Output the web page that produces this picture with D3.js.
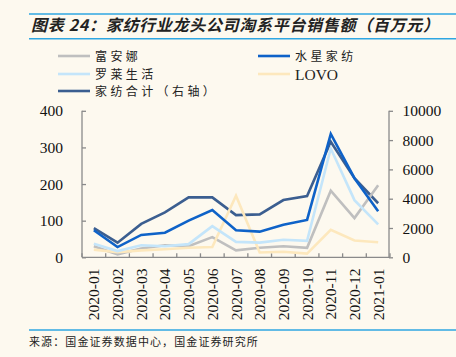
<!DOCTYPE html>
<html><head><meta charset="utf-8">
<script src="https://cdn.jsdelivr.net/npm/d3@7"></script>
<style>
html,body{margin:0;padding:0;background:#fdf9ef;}
svg{display:block;}
</style></head>
<body>
<script>
const categories = ["2020-01","2020-02","2020-03","2020-04","2020-05","2020-06","2020-07","2020-08","2020-09","2020-10","2020-11","2020-12","2021-01"];
const fuanna = [30, 8, 24, 33, 30, 55, 19, 26, 30, 26, 182, 107, 197];
const shuixing = [74, 28, 61, 67, 100, 129, 74, 70, 89, 102, 337, 216, 126];
const luolai = [37, 17, 33, 30, 36, 85, 42, 40, 48, 45, 297, 156, 90];
const lovo = [21, 14, 19, 22, 26, 28, 168, 13, 15, 10, 75, 46, 41];
const total = [1990, 1000, 2280, 3060, 4090, 4090, 2880, 2930, 3910, 4180, 7890, 5400, 3690];
const leftTicks = [0, 100, 200, 300, 400];
const rightTicks = [0, 2000, 4000, 6000, 8000, 10000];
const seriesNames = ["富安娜","水星家纺","罗莱生活","LOVO","家纺合计（右轴）"];
const seriesColors = ["#bfbfbf","#0e62c8","#c4e5fa","#fde8bd","#3b5e90"];

const W = 456, H = 357;
const svg = d3.select("body").append("svg").attr("width", W).attr("height", H);
svg.append("rect").attr("width", W).attr("height", H).attr("fill", "#fdf9ef");

// title
svg.append("line").attr("x1", 29).attr("x2", 456).attr("y1", 14).attr("y2", 14).attr("stroke", "#2ea6e2").attr("stroke-width", 1.6);
svg.append("line").attr("x1", 29).attr("x2", 456).attr("y1", 38.8).attr("y2", 38.8).attr("stroke", "#2ea6e2").attr("stroke-width", 1.6);
svg.append("text").attr("x", 31).attr("y", 30.5)
  .attr("font-family", "'Noto Sans CJK SC', sans-serif").attr("font-size", 16)
  .attr("font-weight", "bold").attr("font-style", "italic").attr("fill", "#222")
  .attr("textLength", 408).attr("lengthAdjust", "spacing")
  .text("图表 24：家纺行业龙头公司淘系平台销售额（百万元）");

// scales
const x = d3.scaleBand().domain(categories).range([82, 390]).paddingInner(0).paddingOuter(0);
const cx = d => x(d) + x.bandwidth() / 2;
const yL = d3.scaleLinear().domain([0, 400]).range([257.3, 110.8]);
const yR = d3.scaleLinear().domain([0, 10000]).range([257.3, 110.8]);
const axisColor = "#8a8a8a";
const serif = "'Liberation Serif', 'Times New Roman', serif";

// left axis
const gL = svg.append("g").attr("transform", "translate(82,0)")
  .call(d3.axisRight(yL).tickValues(leftTicks).tickSize(4).tickFormat(""));
gL.select(".domain").attr("stroke", axisColor).attr("stroke-width", 1.3).attr("d", `M0,${yL(400)}V${yL(0)}`);
gL.selectAll(".tick line").attr("stroke", axisColor).attr("stroke-width", 1.3);
svg.append("g").selectAll("text").data(leftTicks).join("text")
  .attr("x", 63).attr("y", d => yL(d) + 5.5).attr("text-anchor", "end")
  .attr("font-family", serif).attr("font-size", 15.5).attr("fill", "#111").text(d => d);

// right axis
const gR = svg.append("g").attr("transform", "translate(389,0)")
  .call(d3.axisRight(yR).tickValues(rightTicks).tickSize(4).tickFormat(""));
gR.select(".domain").attr("stroke", axisColor).attr("stroke-width", 1.3).attr("d", `M0,${yR(10000)}V${yR(0)}`);
gR.selectAll(".tick line").attr("stroke", axisColor).attr("stroke-width", 1.3);
svg.append("g").selectAll("text").data(rightTicks).join("text")
  .attr("x", 402.5).attr("y", d => yR(d) + 5.5).attr("text-anchor", "start")
  .attr("font-family", serif).attr("font-size", 15.5).attr("fill", "#111").text(d => d);

// bottom axis
const gB = svg.append("g").attr("transform", `translate(0,${yL(0)})`)
  .call(d3.axisBottom(x).tickSize(-4).tickFormat(""));
gB.select(".domain").attr("stroke", axisColor).attr("stroke-width", 1.3).attr("d", "M82,0H390");
gB.selectAll(".tick").attr("transform", d => `translate(${x(d)},0)`);
gB.selectAll(".tick line").attr("stroke", axisColor).attr("stroke-width", 1.3);
gB.append("line").attr("x1", 390).attr("x2", 390).attr("y1", 0).attr("y2", -4).attr("stroke", axisColor).attr("stroke-width", 1.3);
svg.append("g").selectAll("text").data(categories).join("text")
  .attr("transform", d => `translate(${cx(d) + 5.5},268.5) rotate(-90)`)
  .attr("text-anchor", "end")
  .attr("font-family", serif).attr("font-size", 15.5).attr("fill", "#111").text(d => d);

// lines
const lineL = d3.line().x((d, i) => cx(categories[i])).y(d => yL(d));
const lineR = d3.line().x((d, i) => cx(categories[i])).y(d => yR(d));
const draw = [
  {data: total, gen: lineR, c: seriesColors[4]},
  {data: fuanna, gen: lineL, c: seriesColors[0]},
  {data: lovo, gen: lineL, c: seriesColors[3]},
  {data: luolai, gen: lineL, c: seriesColors[2]},
  {data: shuixing, gen: lineL, c: seriesColors[1]},
];
draw.forEach(s => {
  svg.append("path").attr("d", s.gen(s.data)).attr("fill", "none")
    .attr("stroke", s.c).attr("stroke-width", 2.6).attr("stroke-linejoin", "miter");
});

// legend
const legPos = [[58, 56], [258, 56], [58, 74], [258, 74], [58, 91]];
seriesNames.forEach((n, i) => {
  const [lx, ly] = legPos[i];
  svg.append("line").attr("x1", lx).attr("x2", lx + 32).attr("y1", ly).attr("y2", ly)
    .attr("stroke", seriesColors[i]).attr("stroke-width", 2.6);
  const isLatin = n === "LOVO";
  svg.append("text").attr("x", lx + 37).attr("y", ly + (isLatin ? 5.5 : 4.5))
    .attr("font-family", isLatin ? serif : "'Noto Sans CJK SC', sans-serif")
    .attr("font-size", isLatin ? 15.5 : 12)
    .attr("letter-spacing", isLatin ? 0 : 3.4)
    .attr("fill", "#222").text(n);
});

// footer
svg.append("line").attr("x1", 29).attr("x2", 456).attr("y1", 330).attr("y2", 330).attr("stroke", "#2ea6e2").attr("stroke-width", 1.6);
svg.append("text").attr("x", 29).attr("y", 346)
  .attr("font-family", "'Noto Sans CJK SC', sans-serif").attr("font-size", 11)
  .attr("letter-spacing", 1.1).attr("fill", "#222")
  .text("来源：国金证券数据中心，国金证券研究所");
</script>
</body></html>
